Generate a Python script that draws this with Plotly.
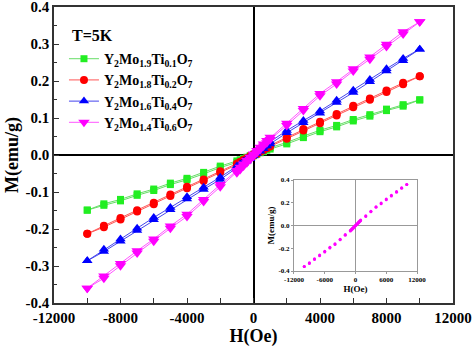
import plotly.graph_objects as go

# Field values (Oe)
H_FIELD = [-10000, -9000, -8000, -7000, -6000, -5000, -4000, -3000, -2000,
           -1000, -800, -600, -400, -200, 0, 200, 400, 600, 800, 1000,
           2000, 3000, 4000, 5000, 6000, 7000, 8000, 9000, 10000]

SERIES_NAMES = ["Y<sub>2</sub>Mo<sub>1.9</sub>Ti<sub>0.1</sub>O<sub>7</sub>",
                "Y<sub>2</sub>Mo<sub>1.8</sub>Ti<sub>0.2</sub>O<sub>7</sub>",
                "Y<sub>2</sub>Mo<sub>1.6</sub>Ti<sub>0.4</sub>O<sub>7</sub>",
                "Y<sub>2</sub>Mo<sub>1.4</sub>Ti<sub>0.6</sub>O<sub>7</sub>"]

# Descending-field branch (M, emu/g), listed in order of H_FIELD
M_DOWN_TI01 = [-0.149, -0.132, -0.120, -0.105, -0.092, -0.076, -0.063, -0.047, -0.030, -0.016, -0.013, -0.009, -0.006, -0.002, 0.002, 0.006, 0.010, 0.013, 0.017, 0.020, 0.034, 0.051, 0.067, 0.080, 0.096, 0.109, 0.124, 0.136, 0.149]
M_UP_TI01 = [-0.149, -0.136, -0.124, -0.109, -0.096, -0.080, -0.067, -0.051, -0.034, -0.020, -0.017, -0.013, -0.010, -0.006, -0.002, 0.002, 0.006, 0.009, 0.013, 0.016, 0.030, 0.047, 0.063, 0.076, 0.092, 0.105, 0.120, 0.132, 0.149]

M_DOWN_TI02 = [-0.213, -0.191, -0.170, -0.149, -0.129, -0.107, -0.086, -0.066, -0.044, -0.023, -0.018, -0.013, -0.008, -0.003, 0.002, 0.007, 0.012, 0.017, 0.022, 0.027, 0.048, 0.070, 0.090, 0.111, 0.133, 0.153, 0.174, 0.195, 0.213]
M_UP_TI02 = [-0.213, -0.195, -0.174, -0.153, -0.133, -0.111, -0.090, -0.070, -0.048, -0.027, -0.022, -0.017, -0.012, -0.007, -0.002, 0.003, 0.008, 0.013, 0.018, 0.023, 0.044, 0.066, 0.086, 0.107, 0.129, 0.149, 0.170, 0.191, 0.213]

M_DOWN_TI04 = [-0.286, -0.255, -0.227, -0.198, -0.169, -0.142, -0.113, -0.087, -0.060, -0.030, -0.024, -0.017, -0.010, -0.004, 0.003, 0.010, 0.016, 0.023, 0.030, 0.036, 0.066, 0.093, 0.119, 0.148, 0.175, 0.204, 0.233, 0.261, 0.286]
M_UP_TI04 = [-0.286, -0.261, -0.233, -0.204, -0.175, -0.148, -0.119, -0.093, -0.066, -0.036, -0.030, -0.023, -0.016, -0.010, -0.003, 0.004, 0.010, 0.017, 0.024, 0.030, 0.060, 0.087, 0.113, 0.142, 0.169, 0.198, 0.227, 0.255, 0.286]

M_DOWN_TI06 = [-0.360, -0.327, -0.293, -0.259, -0.227, -0.192, -0.160, -0.120, -0.080, -0.042, -0.033, -0.024, -0.015, -0.006, 0.003, 0.012, 0.021, 0.030, 0.039, 0.048, 0.086, 0.126, 0.166, 0.198, 0.233, 0.265, 0.299, 0.333, 0.360]
M_UP_TI06 = [-0.360, -0.333, -0.299, -0.265, -0.233, -0.198, -0.166, -0.126, -0.086, -0.048, -0.039, -0.030, -0.021, -0.012, -0.003, 0.006, 0.015, 0.024, 0.033, 0.042, 0.080, 0.120, 0.160, 0.192, 0.227, 0.259, 0.293, 0.327, 0.360]

X_TICKS = [-12000, -8000, -4000, 0, 4000, 8000, 12000]
X_TICK_TEXT = ["-12000", "-8000", "-4000", "0", "4000", "8000", "12000"]
Y_TICKS = [-0.4, -0.3, -0.2, -0.1, 0.0, 0.1, 0.2, 0.3, 0.4]
Y_TICK_TEXT = ["-0.4", "-0.3", "-0.2", "-0.1", "0.0", "0.1", "0.2", "0.3", "0.4"]
INSET_X_TICKS = [-12000, -6000, 0, 6000, 12000]
INSET_X_TEXT = ["-12000", "-6000", "0", "6000", "12000"]
INSET_Y_TICKS = [-0.4, -0.2, 0.0, 0.2, 0.4]
INSET_Y_TEXT = ["-0.4", "-0.2", "0.0", "0.2", "0.4"]

series = [
    (SERIES_NAMES[0], M_DOWN_TI01, M_UP_TI01, "#22ee22", "#66dd66", "square", 7),
    (SERIES_NAMES[1], M_DOWN_TI02, M_UP_TI02, "#ff0000", "#ff5555", "circle", 8),
    (SERIES_NAMES[2], M_DOWN_TI04, M_UP_TI04, "#0000ff", "#4444ee", "triangle-up", 9),
    (SERIES_NAMES[3], M_DOWN_TI06, M_UP_TI06, "#ff00ff", "#ff55ff", "triangle-down", 10),
]

FONT = "Liberation Serif"
fig = go.Figure()

for name, mdown, mup, mc, lc, sym, size in series:
    xs = H_FIELD[::-1] + H_FIELD
    ys = mdown[::-1] + mup
    fig.add_trace(go.Scatter(
        x=xs, y=ys, name=name, mode="lines+markers",
        line=dict(color=lc, width=1),
        marker=dict(color=mc, symbol=sym, size=size, line=dict(width=0)),
        xaxis="x", yaxis="y"))

# Inset: Ti0.6 sample
fig.add_trace(go.Scatter(
    x=H_FIELD[::-1] + H_FIELD, y=M_DOWN_TI06[::-1] + M_UP_TI06,
    mode="markers", marker=dict(color="#ff00ff", size=3),
    showlegend=False, xaxis="x2", yaxis="y2"))

tf = dict(family=FONT, size=15, color="black", weight="bold")

fig.update_layout(
    width=474, height=350,
    margin=dict(l=54, r=21, t=7, b=47, autoexpand=False),
    paper_bgcolor="white", plot_bgcolor="white",
    showlegend=True,
    legend=dict(x=0.025, y=0.878, xanchor="left", yanchor="top",
                bgcolor="rgba(0,0,0,0)", font=dict(family=FONT, size=14, color="black", weight="bold"),
                tracegroupgap=0, itemwidth=30),
    xaxis=dict(domain=[0, 1], range=[-12000, 12000], tickvals=X_TICKS, ticktext=X_TICK_TEXT,
               automargin=False, ticklabeloverflow="allow",
               ticks="inside", ticklen=5, tickwidth=1, tickcolor="#333",
               minor=dict(ticks="inside", dtick=2000, tick0=0, ticklen=5, tickwidth=1, tickcolor="#333"),
               showline=True, linecolor="#333", linewidth=1.5, mirror=True,
               showgrid=False, zeroline=True, zerolinecolor="black", zerolinewidth=1.5,
               tickfont=tf,
               title=dict(text="H(Oe)", font=dict(family=FONT, size=18, color="black", weight="bold"), standoff=3)),
    yaxis=dict(domain=[0, 1], range=[-0.4, 0.4], tickvals=Y_TICKS, ticktext=Y_TICK_TEXT,
               automargin=False, ticklabeloverflow="allow",
               ticks="inside", ticklen=5, tickwidth=1, tickcolor="#333",
               minor=dict(ticks="inside", dtick=0.05, tick0=0, ticklen=3, tickwidth=1, tickcolor="#333"),
               showline=True, linecolor="#333", linewidth=1.5, mirror=True,
               showgrid=False, zeroline=True, zerolinecolor="black", zerolinewidth=1.5,
               tickfont=tf,
               title=dict(text="M(emu/g)", font=dict(family=FONT, size=18, color="black", weight="bold"), standoff=2)),
    xaxis2=dict(domain=[0.6015, 0.9098], anchor="y2", range=[-12000, 12000],
                tickvals=INSET_X_TICKS, ticktext=INSET_X_TEXT, automargin=False,
                ticks="outside", ticklen=2, tickcolor="#999",
                showline=True, linecolor="#999", linewidth=1, mirror=True,
                showgrid=False, zeroline=True, zerolinecolor="#999", zerolinewidth=1,
                tickfont=dict(family=FONT, size=7, color="black", weight="bold"),
                title=dict(text="H(Oe)", font=dict(family=FONT, size=9, color="black", weight="bold"), standoff=2)),
    yaxis2=dict(domain=[0.108, 0.4155], anchor="x2", range=[-0.4, 0.4],
                tickvals=INSET_Y_TICKS, ticktext=INSET_Y_TEXT, automargin=False,
                ticks="outside", ticklen=2, tickcolor="#999",
                showline=True, linecolor="#999", linewidth=1, mirror=True,
                showgrid=False, zeroline=True, zerolinecolor="#999", zerolinewidth=1,
                tickfont=dict(family=FONT, size=7, color="black", weight="bold"),
                title=dict(text="M(emu/g)", font=dict(family=FONT, size=9, color="black", weight="bold"), standoff=2)),
    annotations=[dict(text="T=5K", x=0.04, y=0.905, xref="paper", yref="paper",
                      xanchor="left", yanchor="middle", showarrow=False,
                      font=dict(family=FONT, size=16, color="black", weight="bold"))],
)

fig.write_html("out.html")
